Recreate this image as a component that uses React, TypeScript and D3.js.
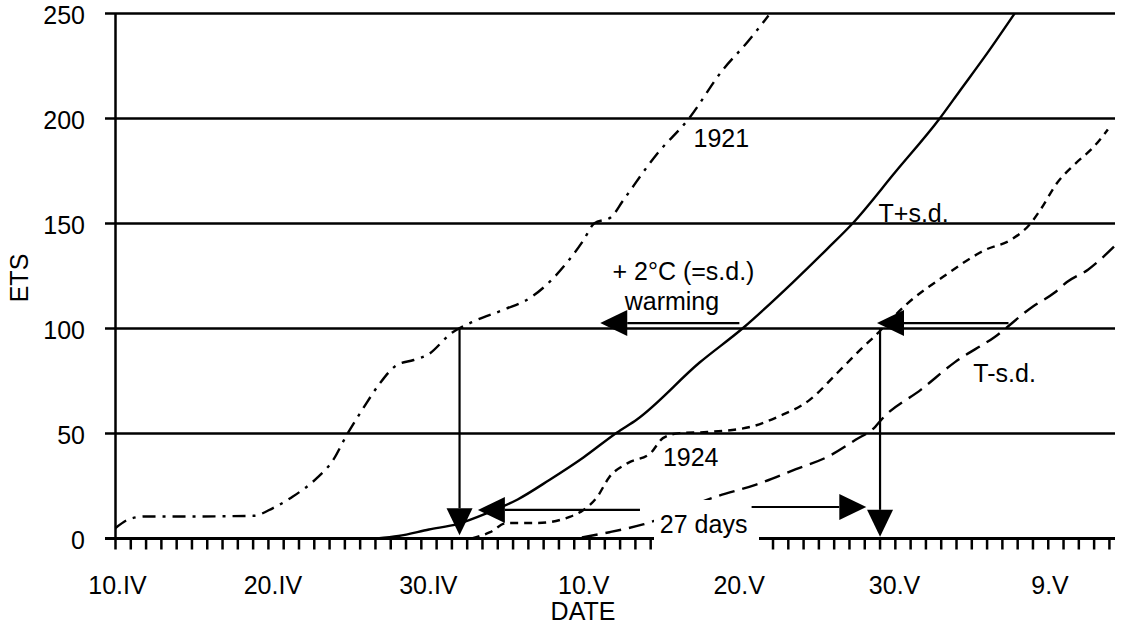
import React, { useRef, useEffect } from 'react';
import * as d3 from 'd3';

// days counted from 10 April, ETS
const days1921 = [0, 1, 2, 5, 9, 10.3, 11.6, 13.2, 14.2, 15.1, 16.2, 17.3, 18.4, 19.5, 20.4, 22, 23.3, 25.4, 27.2, 28.5, 29.7, 30.6, 31.3, 32.4, 33.2, 35.4, 37.5, 39.7, 41.4, 42.7];
const ets1921 = [5, 9.5, 10.5, 10.5, 10.8, 14.5, 20, 29, 37, 49, 62, 74, 82.6, 85, 87.4, 98, 103, 109, 115, 123, 133, 142, 150, 153, 161, 183, 200, 223, 237, 249];

const daysPlus = [17.1, 18.5, 20.5, 22.4, 24.4, 26.3, 28.4, 30.6, 32.8, 34.1, 38.2, 41, 44.3, 46.5, 48.2, 51, 53.9, 55.2, 57, 58.8];
const etsPlus = [0, 1.2, 4.3, 7, 12.4, 18.6, 28, 38.6, 50.5, 56.7, 83.8, 100, 122, 137.6, 150, 174.5, 200, 213, 231, 250];

const days1924 = [23.3, 24.5, 25.6, 27.6, 29.7, 30.6, 31.5, 32.3, 33.5, 35, 35.8, 36.9, 38.7, 41.5, 43.3, 45.4, 47.2, 48.7, 49.6, 51.8, 54.1, 56.9, 58.6, 59.9, 60.5, 61.6, 62.7, 64, 64.9];
const ets1924 = [0, 3, 7.4, 7.4, 10.3, 13.6, 19.8, 29.3, 35.9, 40.7, 47.8, 50.2, 50.7, 53.1, 57.9, 66, 78.8, 89.8, 96, 112, 124.5, 137.5, 142.4, 150.5, 156.7, 169.5, 178, 186.7, 194.8];

const daysMinus = [30.5, 32.3, 34.5, 39.3, 41.9, 44.5, 46.6, 48.4, 49.7, 50.1, 52.7, 54.9, 57.5, 60, 61.4, 62.2, 63.6, 65.3];
const etsMinus = [0.5, 3, 6.7, 20, 25.7, 33, 39, 47, 53.3, 56.7, 71, 84, 96, 110.5, 117, 122, 128, 139];

const xLabelDays = [0, 10, 20, 30, 40, 50, 60];
const xLabels = ['10.IV', '20.IV', '30.IV', '10.V', '20.V', '30.V', '9.V'];
const yTicks = [0, 50, 100, 150, 200, 250];

// annotation arrows: [fromDay, fromEts, toDay, toEts], head at "to"
const arrows = [
    [22.5, 100, 22.5, 1.5],
    [50, 100, 50, 0.8],
    [40.8, 102.6, 31.7, 102.6],
    [58.4, 102.6, 49.8, 102.6],
    [34.3, 13.6, 23.7, 13.6],
    [41.6, 15, 49.1, 15],
];

// free text labels: [text, day, ets] (left edge, baseline)
const notes = [
    ['1921', 37.8, 186.4],
    ['T+s.d.', 49.9, 150.9],
    ['+ 2°C (=s.d.)', 32.5, 123],
    ['warming', 33.3, 108.8],
    ['T-s.d.', 56.1, 74.5],
    ['1924', 35.8, 34.5],
    ['27 days', 35.6, 2.7],
];

const FONT = '"Liberation Sans", Arial, Helvetica, sans-serif';

const App = () => {
    const ref = useRef<SVGSVGElement>(null);

    useEffect(() => {
        const svg = d3.select(ref.current);
        svg.selectAll('*').remove();

        const x = d3.scaleLinear().domain([0, 65.3]).range([115.5, 1114]);
        const y = d3.scaleLinear().domain([0, 250]).range([538.5, 13.5]);
        // the printed date labels drift slightly right of the day ticks
        const xLab = d3.scaleLinear().domain([0, 60]).range([117.5, 1050]);

        // horizontal gridlines with left ticks
        svg.append('g')
            .selectAll('line')
            .data(yTicks)
            .join('line')
            .attr('x1', 105)
            .attr('x2', 1115)
            .attr('y1', d => y(d))
            .attr('y2', d => y(d))
            .attr('stroke', '#000')
            .attr('stroke-width', d => d === 0 ? 3 : 2.5);

        svg.append('g')
            .attr('font-family', FONT)
            .attr('font-size', 25)
            .attr('text-anchor', 'end')
            .selectAll('text')
            .data(yTicks)
            .join('text')
            .attr('x', 85)
            .attr('y', d => y(d) + 10)
            .text(d => d);

        // y axis line
        svg.append('line')
            .attr('x1', x(0)).attr('x2', x(0))
            .attr('y1', y(250)).attr('y2', y(0))
            .attr('stroke', '#000')
            .attr('stroke-width', 2.5);

        // daily ticks
        svg.append('g')
            .selectAll('line')
            .data(d3.range(0, 66))
            .join('line')
            .attr('x1', d => x(d))
            .attr('x2', d => x(d))
            .attr('y1', y(0))
            .attr('y2', y(0) + 11)
            .attr('stroke', '#000')
            .attr('stroke-width', 2.5);

        svg.append('g')
            .attr('font-family', FONT)
            .attr('font-size', 25)
            .attr('text-anchor', 'middle')
            .selectAll('text')
            .data(xLabelDays)
            .join('text')
            .attr('x', d => xLab(d))
            .attr('y', y(0) + 55)
            .text((d, i) => xLabels[i]);

        svg.append('text')
            .attr('font-family', FONT)
            .attr('font-size', 25)
            .attr('text-anchor', 'middle')
            .attr('x', 583)
            .attr('y', 620)
            .text('DATE');

        svg.append('text')
            .attr('font-family', FONT)
            .attr('font-size', 25)
            .attr('text-anchor', 'middle')
            .attr('transform', 'translate(28,278) rotate(-90)')
            .text('ETS');

        // curves
        const line = d3.line<[number, number]>()
            .x(d => x(d[0]))
            .y(d => y(d[1]))
            .curve(d3.curveMonotoneX);

        const series = [
            { days: days1921, ets: ets1921, dash: '13,7,3,7' },
            { days: daysPlus, ets: etsPlus, dash: null },
            { days: days1924, ets: ets1924, dash: '8,6' },
            { days: daysMinus, ets: etsMinus, dash: '16,8' },
        ];

        series.forEach(s => {
            const pts = s.days.map((d, i) => [d, s.ets[i]] as [number, number]);
            svg.append('path')
                .attr('d', line(pts))
                .attr('fill', 'none')
                .attr('stroke', '#000')
                .attr('stroke-width', 2.4)
                .attr('stroke-dasharray', s.dash);
        });

        // white gap in the axis behind "27 days"
        svg.append('rect')
            .attr('x', 654)
            .attr('y', 500)
            .attr('width', 105)
            .attr('height', 54)
            .attr('fill', '#fff');

        // arrows
        const head = 27, half = 13;
        arrows.forEach(([d1, e1, d2, e2]) => {
            const x1 = x(d1), y1 = y(e1), x2 = x(d2), y2 = y(e2);
            const len = Math.hypot(x2 - x1, y2 - y1);
            const ux = (x2 - x1) / len, uy = (y2 - y1) / len;
            const bx = x2 - ux * head, by = y2 - uy * head;
            svg.append('line')
                .attr('x1', x1).attr('y1', y1)
                .attr('x2', bx).attr('y2', by)
                .attr('stroke', '#000')
                .attr('stroke-width', 2.2);
            svg.append('polygon')
                .attr('points', [
                    [x2, y2],
                    [bx - uy * half, by + ux * half],
                    [bx + uy * half, by - ux * half],
                ].map(p => p.join(',')).join(' '))
                .attr('fill', '#000');
        });

        // text notes
        svg.append('g')
            .attr('font-family', FONT)
            .attr('font-size', 25)
            .selectAll('text')
            .data(notes)
            .join('text')
            .attr('x', d => x(d[1] as number))
            .attr('y', d => y(d[2] as number))
            .text(d => d[0] as string);
    }, []);

    return (
        <svg
            ref={ref}
            width={1121}
            height={626}
            style={{ position: 'absolute', left: 0, top: 0, background: '#fff' }}
        />
    );
};

export default App;
